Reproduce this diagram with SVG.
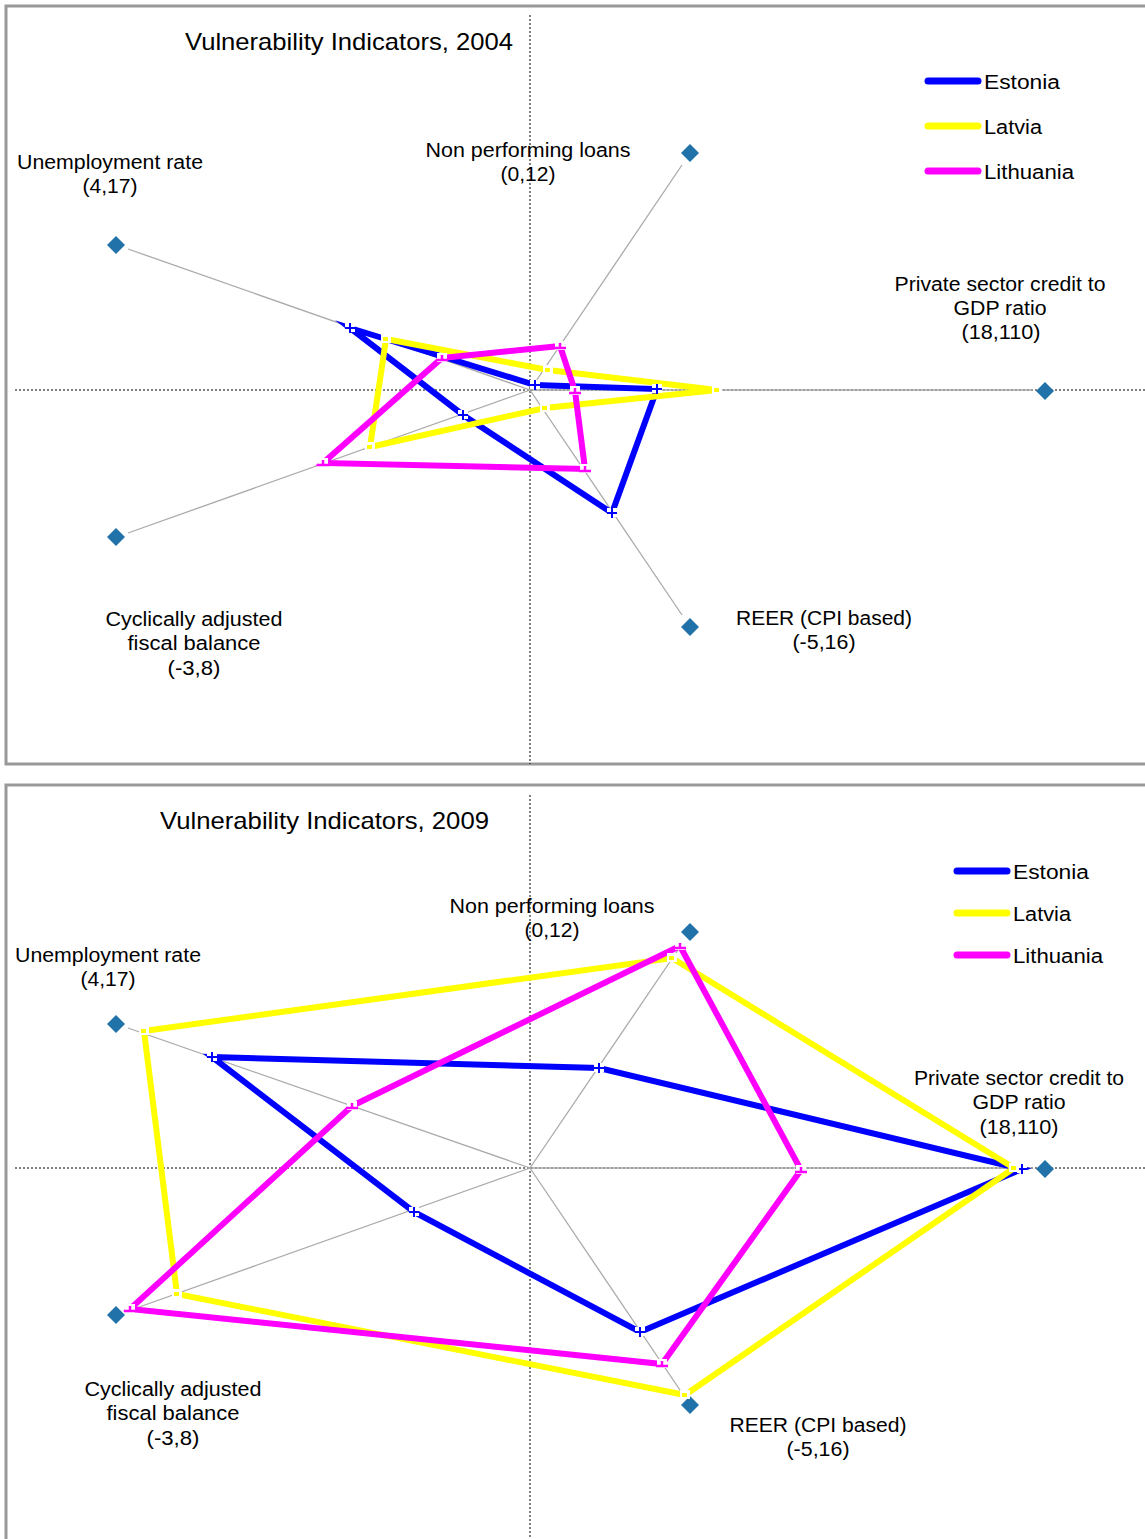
<svg xmlns="http://www.w3.org/2000/svg" xmlns:xlink="http://www.w3.org/1999/xlink" width="1145" height="1539" viewBox="0 0 1145 1539">
<style>
text{font-family:"Liberation Sans",Arial,sans-serif;fill:#000;}
.lbl{font-size:20px;text-anchor:middle;}
.ttl{font-size:24px;}
.leg{font-size:20px;}
.frame{fill:#fff;stroke:#999;stroke-width:3;}
.dot{stroke:#000;stroke-width:1;stroke-dasharray:2 2;fill:none;}
.axis{stroke:#aaa;stroke-width:1.3;fill:none;}
.dia{fill:#2272aa;}
.ser{fill:none;stroke-width:6;stroke-linejoin:miter;stroke-miterlimit:6;}
.e{stroke:#0000ff;} .l{stroke:#ffff00;} .t{stroke:#ff00ff;}
.legl{stroke-width:7;stroke-linecap:round;}
</style>
<defs>
<path id="dm" d="M0,-9 L3,-6 L9,0 L3,6 L0,9 L-3,6 L-9,0 L-3,-6 Z"/>
<g id="mE"><rect x="-5" y="-5" width="10" height="9" fill="#fff"/><path d="M-5,0 H5 M0,-5 V5" stroke="#0000ff" stroke-width="2"/></g>
<g id="mL"><rect x="-5" y="-5" width="10" height="9" fill="#fff"/><rect x="-3" y="-2" width="5" height="4" fill="#ffff00"/></g>
<g id="mT"><rect x="-5" y="-5" width="10" height="9" fill="#fff"/><path d="M-6,2 H6 M0,-3 V2" stroke="#ff00ff" stroke-width="2.5"/></g>
</defs>
<rect width="1145" height="1539" fill="#fff"/>

<!-- ============ PANEL 2004 ============ -->
<g id="panel2004">
<rect class="frame" x="6" y="6" width="1145" height="758"/>
<line class="dot" x1="530" y1="15" x2="530" y2="764"/>
<line class="dot" x1="15" y1="390" x2="1145" y2="390"/>
<g id="axes2004">
<line class="axis" x1="530" y1="390" x2="128" y2="249"/>
<line class="axis" x1="530" y1="390" x2="682" y2="165"/>
<line class="axis" x1="530" y1="390" x2="1033" y2="390"/>
<line class="axis" x1="530" y1="390" x2="682" y2="615"/>
<line class="axis" x1="530" y1="390" x2="128" y2="533"/>
</g>
<text class="ttl" x="185" y="50" textLength="328" lengthAdjust="spacingAndGlyphs">Vulnerability Indicators, 2004</text>
</g>

<g id="n2004-unemployment">
<use href="#dm" class="dia" x="116" y="245"/>
<text class="lbl" x="110" y="169" textLength="186" lengthAdjust="spacingAndGlyphs">Unemployment rate</text>
<text class="lbl" x="110" y="193" textLength="55" lengthAdjust="spacingAndGlyphs">(4,17)</text>
</g>
<g id="n2004-npl">
<use href="#dm" class="dia" x="690" y="153"/>
<text class="lbl" x="528" y="157" textLength="205" lengthAdjust="spacingAndGlyphs">Non performing loans</text>
<text class="lbl" x="528" y="181" textLength="55" lengthAdjust="spacingAndGlyphs">(0,12)</text>
</g>
<g id="n2004-credit">
<use href="#dm" class="dia" x="1045" y="391"/>
<text class="lbl" x="1000" y="291" textLength="211" lengthAdjust="spacingAndGlyphs">Private sector credit to</text>
<text class="lbl" x="1000" y="315" textLength="93" lengthAdjust="spacingAndGlyphs">GDP ratio</text>
<text class="lbl" x="1001" y="339" textLength="79" lengthAdjust="spacingAndGlyphs">(18,110)</text>
</g>
<g id="n2004-reer">
<use href="#dm" class="dia" x="690" y="627"/>
<text class="lbl" x="824" y="625" textLength="176" lengthAdjust="spacingAndGlyphs">REER (CPI based)</text>
<text class="lbl" x="824" y="649" textLength="63" lengthAdjust="spacingAndGlyphs">(-5,16)</text>
</g>
<g id="n2004-fiscal">
<use href="#dm" class="dia" x="116" y="537"/>
<text class="lbl" x="194" y="626" textLength="177" lengthAdjust="spacingAndGlyphs">Cyclically adjusted</text>
<text class="lbl" x="194" y="650" textLength="133" lengthAdjust="spacingAndGlyphs">fiscal balance</text>
<text class="lbl" x="194" y="675" textLength="53" lengthAdjust="spacingAndGlyphs">(-3,8)</text>
</g>
<g id="legend2004">
<line class="legl" x1="928" y1="81" x2="978" y2="81" stroke="#0000ff"/>
<text class="leg" x="984" y="89" textLength="76" lengthAdjust="spacingAndGlyphs">Estonia</text>
<line class="legl" x1="928" y1="126" x2="978" y2="126" stroke="#ffff00"/>
<text class="leg" x="984" y="134" textLength="58" lengthAdjust="spacingAndGlyphs">Latvia</text>
<line class="legl" x1="928" y1="171" x2="978" y2="171" stroke="#ff00ff"/>
<text class="leg" x="984" y="179" textLength="90" lengthAdjust="spacingAndGlyphs">Lithuania</text>
</g>

<!-- ============ PANEL 2009 ============ -->
<g id="panel2009">
<rect class="frame" x="6" y="785" width="1145" height="770"/>
<line class="dot" x1="530" y1="795" x2="530" y2="1539"/>
<line class="dot" x1="15" y1="1168" x2="1145" y2="1168"/>
<g id="axes2009">
<line class="axis" x1="530" y1="1168" x2="128" y2="1028"/>
<line class="axis" x1="530" y1="1168" x2="682" y2="944"/>
<line class="axis" x1="530" y1="1168" x2="1033" y2="1168"/>
<line class="axis" x1="530" y1="1168" x2="682" y2="1393"/>
<line class="axis" x1="530" y1="1168" x2="128" y2="1311"/>
</g>
<text class="ttl" x="160" y="829" textLength="329" lengthAdjust="spacingAndGlyphs">Vulnerability Indicators, 2009</text>
</g>

<g id="n2009-unemployment">
<use href="#dm" class="dia" x="116" y="1024"/>
<text class="lbl" x="108" y="962" textLength="186" lengthAdjust="spacingAndGlyphs">Unemployment rate</text>
<text class="lbl" x="108" y="986" textLength="55" lengthAdjust="spacingAndGlyphs">(4,17)</text>
</g>
<g id="n2009-npl">
<use href="#dm" class="dia" x="690" y="932"/>
<text class="lbl" x="552" y="913" textLength="205" lengthAdjust="spacingAndGlyphs">Non performing loans</text>
<text class="lbl" x="552" y="937" textLength="55" lengthAdjust="spacingAndGlyphs">(0,12)</text>
</g>
<g id="n2009-credit">
<use href="#dm" class="dia" x="1045" y="1169"/>
<text class="lbl" x="1019" y="1085" textLength="210" lengthAdjust="spacingAndGlyphs">Private sector credit to</text>
<text class="lbl" x="1019" y="1109" textLength="93" lengthAdjust="spacingAndGlyphs">GDP ratio</text>
<text class="lbl" x="1019" y="1134" textLength="79" lengthAdjust="spacingAndGlyphs">(18,110)</text>
</g>
<g id="n2009-reer">
<use href="#dm" class="dia" x="690" y="1405"/>
<text class="lbl" x="818" y="1432" textLength="177" lengthAdjust="spacingAndGlyphs">REER (CPI based)</text>
<text class="lbl" x="818" y="1456" textLength="63" lengthAdjust="spacingAndGlyphs">(-5,16)</text>
</g>
<g id="n2009-fiscal">
<use href="#dm" class="dia" x="116" y="1315"/>
<text class="lbl" x="173" y="1396" textLength="177" lengthAdjust="spacingAndGlyphs">Cyclically adjusted</text>
<text class="lbl" x="173" y="1420" textLength="133" lengthAdjust="spacingAndGlyphs">fiscal balance</text>
<text class="lbl" x="173" y="1445" textLength="53" lengthAdjust="spacingAndGlyphs">(-3,8)</text>
</g>
<g id="legend2009">
<line class="legl" x1="957" y1="871" x2="1007" y2="871" stroke="#0000ff"/>
<text class="leg" x="1013" y="879" textLength="76" lengthAdjust="spacingAndGlyphs">Estonia</text>
<line class="legl" x1="957" y1="913" x2="1007" y2="913" stroke="#ffff00"/>
<text class="leg" x="1013" y="921" textLength="58" lengthAdjust="spacingAndGlyphs">Latvia</text>
<line class="legl" x1="957" y1="955" x2="1007" y2="955" stroke="#ff00ff"/>
<text class="leg" x="1013" y="963" textLength="90" lengthAdjust="spacingAndGlyphs">Lithuania</text>
</g>

<!-- ============ SERIES (connectors) ============ -->
<g id="connectors">
<g id="series2004">
<polygon class="ser e" points="350,328 535,385 657,389 612,513 463,415"/>
<polygon class="ser l" points="386,339 548,370 717,390 545,408 370,447"/>
<polygon class="ser t" points="442,358 560,346 575,391 585,469 323,463"/>
<use href="#mE" x="350" y="328"/><use href="#mE" x="535" y="385"/><use href="#mE" x="657" y="389"/><use href="#mE" x="612" y="513"/><use href="#mE" x="463" y="415"/>
<use href="#mL" x="386" y="339"/><use href="#mL" x="548" y="370"/><use href="#mL" x="717" y="390"/><use href="#mL" x="545" y="408"/><use href="#mL" x="370" y="447"/>
<use href="#mT" x="442" y="358"/><use href="#mT" x="560" y="346"/><use href="#mT" x="575" y="391"/><use href="#mT" x="585" y="469"/><use href="#mT" x="323" y="463"/>
</g>
<g id="series2009">
<polygon class="ser e" points="212,1057 599,1068 1022,1169 640,1332 414,1212"/>
<polygon class="ser l" points="144,1031 672,958 1014,1168 685,1395 177,1294"/>
<polygon class="ser t" points="352,1106 680,946 801,1170 662,1364 130,1309"/>
<use href="#mE" x="212" y="1057"/><use href="#mE" x="599" y="1068"/><use href="#mE" x="1022" y="1169"/><use href="#mE" x="640" y="1332"/><use href="#mE" x="414" y="1212"/>
<use href="#mL" x="144" y="1031"/><use href="#mL" x="672" y="958"/><use href="#mL" x="1014" y="1168"/><use href="#mL" x="685" y="1395"/><use href="#mL" x="177" y="1294"/>
<use href="#mT" x="352" y="1106"/><use href="#mT" x="680" y="946"/><use href="#mT" x="801" y="1170"/><use href="#mT" x="662" y="1364"/><use href="#mT" x="130" y="1309"/>
</g>
</g>
</svg>
